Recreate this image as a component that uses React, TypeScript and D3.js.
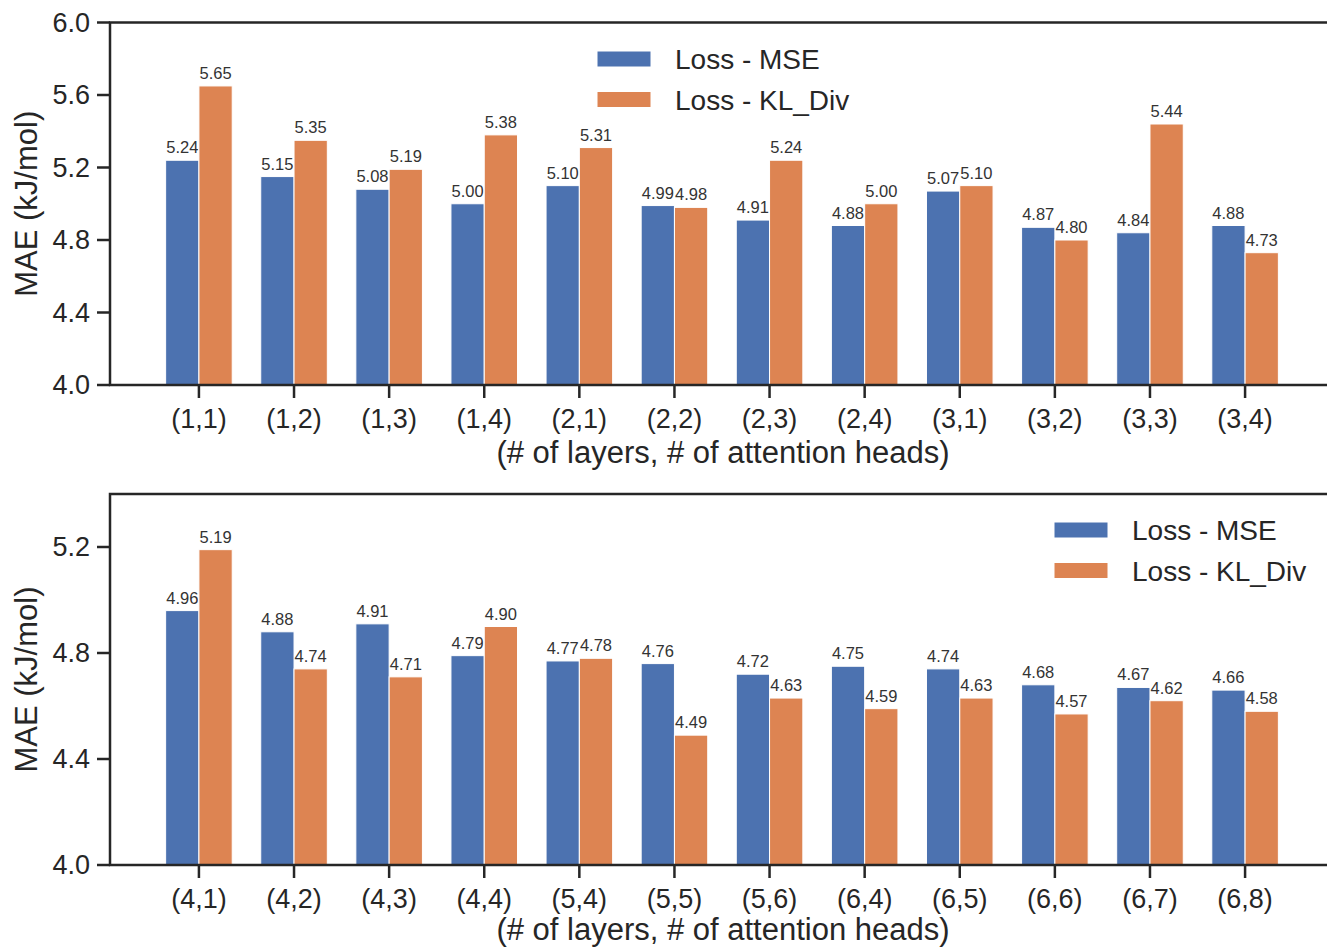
import React, { useEffect, useRef } from 'react';
import * as d3 from 'd3';

// top panel: 1-3 layers
const topCategories = ['(1,1)', '(1,2)', '(1,3)', '(1,4)', '(2,1)', '(2,2)', '(2,3)', '(2,4)', '(3,1)', '(3,2)', '(3,3)', '(3,4)'];
const topMse = [5.24, 5.15, 5.08, 5.0, 5.1, 4.99, 4.91, 4.88, 5.07, 4.87, 4.84, 4.88];
const topKl = [5.65, 5.35, 5.19, 5.38, 5.31, 4.98, 5.24, 5.0, 5.1, 4.8, 5.44, 4.73];
const topTicks = [4.0, 4.4, 4.8, 5.2, 5.6, 6.0];

// bottom panel: 4-6 layers
const bottomCategories = ['(4,1)', '(4,2)', '(4,3)', '(4,4)', '(5,4)', '(5,5)', '(5,6)', '(6,4)', '(6,5)', '(6,6)', '(6,7)', '(6,8)'];
const bottomMse = [4.96, 4.88, 4.91, 4.79, 4.77, 4.76, 4.72, 4.75, 4.74, 4.68, 4.67, 4.66];
const bottomKl = [5.19, 4.74, 4.71, 4.9, 4.78, 4.49, 4.63, 4.59, 4.63, 4.57, 4.62, 4.58];
const bottomTicks = [4.0, 4.4, 4.8, 5.2];

const seriesNames = ['Loss - MSE', 'Loss - KL_Div'];

const BLUE = '#4c72b0';
const ORANGE = '#dd8452';
const INK = '#262626';
const FONT = '"Liberation Sans", Arial, Helvetica, sans-serif';

const W = 1327, H = 948;
const left = 110, right = 1334;
const barW = 0.35;

const drawPanel = (svg, p) => {
  const n = p.categories.length;
  const x = d3.scaleLinear().domain([-0.935, n - 1 + 0.935]).range([left, right]);
  const y = d3.scaleLinear().domain(p.domain).range([p.bottom, p.top]);
  const g = svg.append('g');

  const rows = p.categories.map((c, i) => ({ c, i, mse: p.mse[i], kl: p.kl[i] }));
  const series = [
    { key: 'mse', color: BLUE, off: -barW / 2 },
    { key: 'kl', color: ORANGE, off: barW / 2 },
  ];

  series.forEach(s => {
    g.selectAll('rect.b' + s.key)
      .data(rows)
      .enter()
      .append('rect')
      .attr('x', d => x(d.i + s.off - barW / 2))
      .attr('width', x(barW) - x(0))
      .attr('y', d => y(d[s.key]))
      .attr('height', d => y(p.domain[0]) - y(d[s.key]))
      .attr('fill', s.color)
      .attr('stroke', '#fff')
      .attr('stroke-width', 1);

    // values above bars
    g.selectAll('text.v' + s.key)
      .data(rows)
      .enter()
      .append('text')
      .attr('x', d => x(d.i + s.off))
      .attr('y', d => y(d[s.key]) - 7)
      .attr('text-anchor', 'middle')
      .attr('font-family', FONT)
      .attr('font-size', 16.5)
      .attr('fill', '#333')
      .text(d => d[s.key].toFixed(2));
  });

  // spines
  g.append('path')
    .attr('d', `M${right},${p.top}H${left}V${p.bottom}H${right}`)
    .attr('fill', 'none')
    .attr('stroke', INK)
    .attr('stroke-width', 2.5);

  // y ticks
  p.ticks.forEach(t => {
    g.append('line')
      .attr('x1', left - 13).attr('x2', left)
      .attr('y1', y(t)).attr('y2', y(t))
      .attr('stroke', INK).attr('stroke-width', 2.5);
    g.append('text')
      .attr('x', left - 20)
      .attr('y', y(t))
      .attr('dy', '0.35em')
      .attr('text-anchor', 'end')
      .attr('font-family', FONT)
      .attr('font-size', 27)
      .attr('fill', INK)
      .text(t.toFixed(1));
  });

  // x ticks
  rows.forEach(d => {
    g.append('line')
      .attr('x1', x(d.i)).attr('x2', x(d.i))
      .attr('y1', p.bottom).attr('y2', p.bottom + 13)
      .attr('stroke', INK).attr('stroke-width', 2.5);
    g.append('text')
      .attr('x', x(d.i))
      .attr('y', p.bottom + 43)
      .attr('text-anchor', 'middle')
      .attr('font-family', FONT)
      .attr('font-size', 27)
      .attr('fill', INK)
      .text(d.c);
  });

  g.append('text')
    .attr('x', 723)
    .attr('y', p.bottom + p.xlabelGap)
    .attr('text-anchor', 'middle')
    .attr('font-family', FONT)
    .attr('font-size', 31)
    .attr('fill', INK)
    .text('(# of layers, # of attention heads)');

  g.append('text')
    .attr('transform', `translate(37,${(p.top + p.bottom) / 2}) rotate(-90)`)
    .attr('text-anchor', 'middle')
    .attr('font-family', FONT)
    .attr('font-size', 31)
    .attr('fill', INK)
    .text('MAE (kJ/mol)');

  // legend
  [BLUE, ORANGE].forEach((c, k) => {
    const ly = p.legendY + k * 40.5;
    g.append('rect')
      .attr('x', p.legendX).attr('y', ly - 8)
      .attr('width', 54).attr('height', 16)
      .attr('fill', c)
      .attr('stroke', '#fff').attr('stroke-width', 1);
    g.append('text')
      .attr('x', p.legendX + 78)
      .attr('y', ly + 10)
      .attr('font-family', FONT)
      .attr('font-size', 28)
      .attr('fill', INK)
      .text(seriesNames[k]);
  });
};

const App = () => {
  const svgRef = useRef(null);

  useEffect(() => {
    const svg = d3.select(svgRef.current);
    svg.selectAll('*').remove();
    drawPanel(svg, {
      categories: topCategories, mse: topMse, kl: topKl, ticks: topTicks,
      domain: [4.0, 6.0], top: 22.5, bottom: 385, legendX: 597, legendY: 59, xlabelGap: 78,
    });
    drawPanel(svg, {
      categories: bottomCategories, mse: bottomMse, kl: bottomKl, ticks: bottomTicks,
      domain: [4.0, 5.4], top: 494, bottom: 865, legendX: 1054, legendY: 530, xlabelGap: 75,
    });
  }, []);

  return (
    <svg
      ref={svgRef}
      width={W}
      height={H}
      style={{ position: 'absolute', left: 0, top: 0, background: '#fff' }}
    />
  );
};

export default App;
